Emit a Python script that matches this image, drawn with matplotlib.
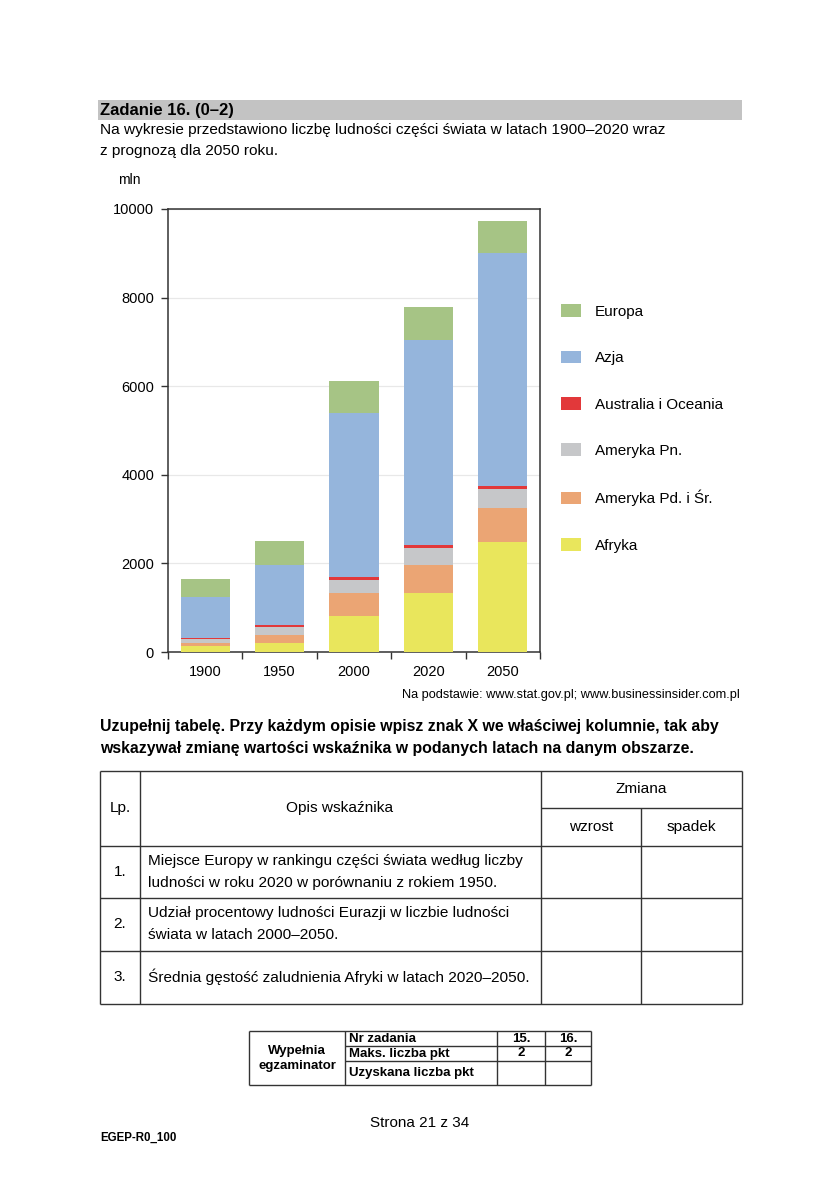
import matplotlib
matplotlib.use("Agg")
import matplotlib.pyplot as plt
import numpy as np

years = ["1900", "1950", "2000", "2020", "2050"]
afryka = [135, 210, 811, 1337, 2478]
ameryka_pd = [70, 165, 511, 638, 766]
ameryka_pn = [80, 180, 308, 376, 428]
australia = [40, 50, 52, 60, 80]
azja = [922, 1352, 3710, 4633, 5257]
europa = [390, 556, 736, 751, 713]

series_names = ["Afryka", "Ameryka Pd. i Śr.", "Ameryka Pn.", "Australia i Oceania", "Azja", "Europa"]
series_vals = [afryka, ameryka_pd, ameryka_pn, australia, azja, europa]
series_colors = ["#e9e65c", "#eba574", "#c6c7c9", "#e2383a", "#95b5dc", "#a6c485"]
yticks = [0, 2000, 4000, 6000, 8000, 10000]

W, H = 840, 1187
fig = plt.figure(figsize=(W / 100, H / 100), dpi=100)

NARROW = ["Liberation Sans Narrow", "Liberation Sans", "DejaVu Sans"]
ARIAL = ["Liberation Sans", "DejaVu Sans"]

# page overlay in pixel coordinates
pg = fig.add_axes([0, 0, 1, 1], zorder=0)
pg.set_xlim(0, W)
pg.set_ylim(H, 0)
pg.axis("off")

def t(x, y, s, size=12, family=NARROW, weight="normal", ha="left", va="center"):
    pg.text(x, y, s, fontsize=size, family=family, fontweight=weight, ha=ha, va=va)

def line(x0, y0, x1, y1, lw=1.0, c="#333333"):
    pg.plot([x0, x1], [y0, y1], color=c, lw=lw, solid_capstyle="butt")

# header
pg.add_patch(plt.Rectangle((98, 100), 644, 20, color="#c3c3c3", lw=0))
t(100, 110, "Zadanie 16. (0–2)", size=12, weight="bold")
t(100, 130, "Na wykresie przedstawiono liczbę ludności części świata w latach 1900–2020 wraz", size=11.1)
t(100, 151, "z prognozą dla 2050 roku.", size=11.1)
t(118, 180, "mln", size=10, family=ARIAL)

# chart
ax = fig.add_axes([168 / W, 1 - 652 / H, 372 / W, 443 / H], zorder=2)
x = np.arange(len(years))
bottom = np.zeros(len(years))
for name, vals, col in zip(series_names, series_vals, series_colors):
    ax.bar(x, vals, bottom=bottom, width=0.66, color=col, label=name, zorder=3, lw=0)
    bottom += np.array(vals)
ax.set_xlim(-0.5, len(years) - 0.5)
ax.set_ylim(0, 10000)
ax.set_yticks(yticks)
ax.set_yticklabels([str(v) for v in yticks], fontsize=10.5, family=ARIAL)
ax.set_xticks(x)
ax.set_xticklabels(years, fontsize=10.5, family=ARIAL)
ax.set_xticks(np.arange(-0.5, len(years)), minor=True)
ax.tick_params(axis="x", which="major", length=0, pad=9)
ax.tick_params(axis="x", which="minor", length=5, width=1, color="#333333", direction="out")
ax.tick_params(axis="y", length=5, width=1, color="#333333", pad=5)
for s in ax.spines.values():
    s.set_color("#333333")
    s.set_linewidth(1.1)
ax.grid(axis="y", color="#e8e8e8", lw=0.9, zorder=0)

# legend (reverse order: Europa on top)
handles, labels = ax.get_legend_handles_labels()
leg = fig.legend(handles[::-1], labels[::-1], loc="upper left",
                 bbox_to_anchor=(552 / W, 1 - 295 / H), frameon=False,
                 prop={"family": ARIAL, "size": 11}, handlelength=1.3, handleheight=0.9,
                 labelspacing=2.08, handletextpad=0.9, borderaxespad=0, borderpad=0.6)

# source
t(740, 695, "Na podstawie: www.stat.gov.pl; www.businessinsider.com.pl", size=9.2, ha="right")

# instruction
t(100, 726, "Uzupełnij tabelę. Przy każdym opisie wpisz znak X we właściwej kolumnie, tak aby", size=11.4, weight="bold")
t(100, 748, "wskazywał zmianę wartości wskaźnika w podanych latach na danym obszarze.", size=11.4, weight="bold")

# main table
xs = [100, 140, 541, 641, 742]
ys = [771, 846, 898, 951, 1004]
for yy in ys:
    line(xs[0], yy, xs[-1], yy)
line(xs[2], 808, xs[4], 808)
for xx in [xs[0], xs[1], xs[2], xs[4]]:
    line(xx, ys[0], xx, ys[-1])
line(xs[3], 808, xs[3], ys[-1])

TS = 11.1
t(120, 808, "Lp.", size=TS, ha="center")
t(340, 808, "Opis wskaźnika", size=TS, ha="center")
t(641, 789, "Zmiana", size=TS, ha="center")
t(591, 827, "wzrost", size=TS, ha="center")
t(691, 827, "spadek", size=TS, ha="center")
t(120, 872, "1.", size=TS, ha="center")
t(148, 861, "Miejsce Europy w rankingu części świata według liczby", size=TS)
t(148, 883, "ludności w roku 2020 w porównaniu z rokiem 1950.", size=TS)
t(120, 924, "2.", size=TS, ha="center")
t(148, 913, "Udział procentowy ludności Eurazji w liczbie ludności", size=TS)
t(148, 935, "świata w latach 2000–2050.", size=TS)
t(120, 977, "3.", size=TS, ha="center")
t(148, 977, "Średnia gęstość zaludnienia Afryki w latach 2020–2050.", size=TS)

# examiner table
bx = [249, 345, 497, 545, 591]
by = [1031, 1046, 1061, 1085]
for yy in [by[0], by[3]]:
    line(bx[0], yy, bx[4], yy)
for yy in [by[1], by[2]]:
    line(bx[1], yy, bx[4], yy)
for xx in bx:
    line(xx, by[0], xx, by[3])
BS = 9.5
t(297, 1051, "Wypełnia", size=BS, family=ARIAL, weight="bold", ha="center")
t(297, 1066, "egzaminator", size=BS, family=ARIAL, weight="bold", ha="center")
t(349, 1038.5, "Nr zadania", size=BS, family=ARIAL, weight="bold")
t(349, 1053.5, "Maks. liczba pkt", size=BS, family=ARIAL, weight="bold")
t(349, 1073, "Uzyskana liczba pkt", size=BS, family=ARIAL, weight="bold")
t(521, 1038.5, "15.", size=BS, family=ARIAL, weight="bold", ha="center")
t(568, 1038.5, "16.", size=BS, family=ARIAL, weight="bold", ha="center")
t(521, 1053.5, "2", size=BS, family=ARIAL, weight="bold", ha="center")
t(568, 1053.5, "2", size=BS, family=ARIAL, weight="bold", ha="center")

# footer
t(420, 1123, "Strona 21 z 34", size=11, family=ARIAL, ha="center")
t(100, 1138, "EGEP-R0_100", size=8.3, family=ARIAL, weight="bold")

fig.savefig("out.png", dpi=100)
